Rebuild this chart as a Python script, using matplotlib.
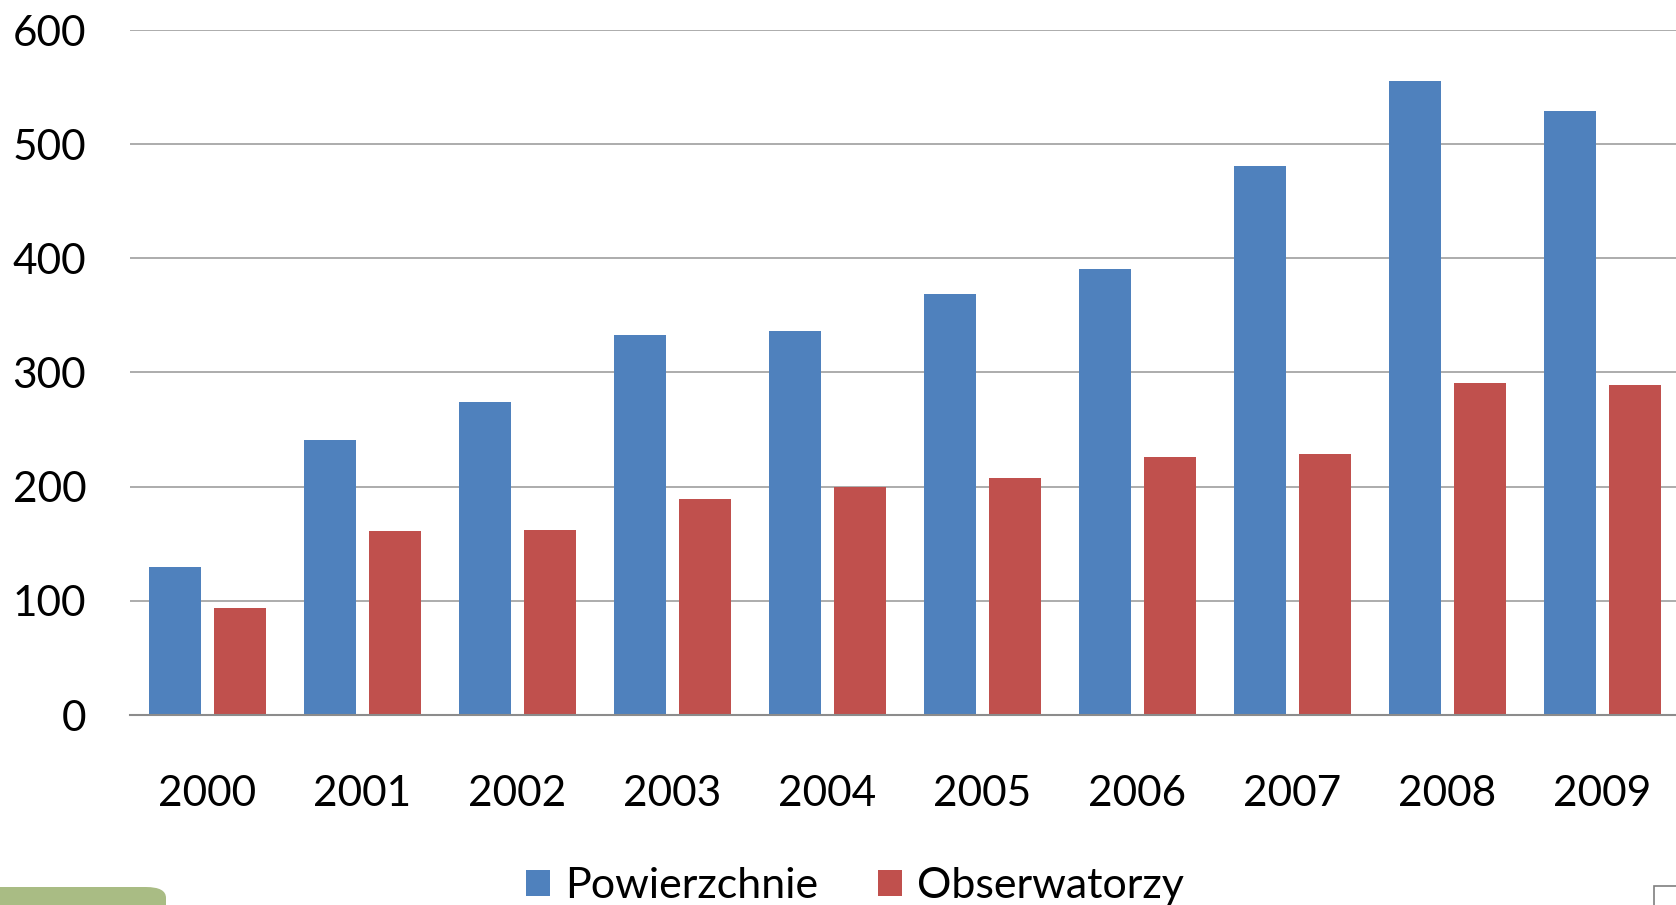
import matplotlib
matplotlib.use("Agg")
import matplotlib.pyplot as plt
import numpy as np
from matplotlib.patches import Patch, FancyBboxPatch, Rectangle

years = ["2000", "2001", "2002", "2003", "2004", "2005", "2006", "2007", "2008", "2009"]
powierzchnie = [130, 241, 274, 333, 336, 369, 391, 481, 555, 529]
obserwatorzy = [94, 161, 162, 189, 200, 208, 226, 229, 291, 289]
series_names = ["Powierzchnie", "Obserwatorzy"]
y_ticks = [0, 100, 200, 300, 400, 500, 600]

BLUE = "#4F81BD"
RED = "#C0504D"

plt.rcParams["font.family"] = ["Lato", "DejaVu Sans"]

W, H = 1676, 905
fig = plt.figure(figsize=(W / 100, H / 100), dpi=100)
ax = fig.add_axes([130 / W, (H - 715) / H, (1680 - 130) / W, (715 - 30) / H])

x = np.arange(len(years))
bw = 0.335
off = 0.208
ax.bar(x - off, powierzchnie, width=bw, color=BLUE, zorder=3)
ax.bar(x + off, obserwatorzy, width=bw, color=RED, zorder=3)

ax.set_xlim(-0.5, len(years) - 0.5)
ax.set_ylim(0, 600)
ax.set_yticks(y_ticks)
ax.set_yticklabels([str(v) for v in y_ticks])
ax.set_xticks(x)
ax.set_xticklabels(years)

ax.yaxis.grid(True, color="#A6A6A6", linewidth=1.3, zorder=0)
ax.set_axisbelow(True)
for s in ["top", "right", "left"]:
    ax.spines[s].set_visible(False)
ax.spines["bottom"].set_color("#8C8C8C")
ax.spines["bottom"].set_linewidth(1.5)
ax.spines["bottom"].set_zorder(4)

ax.tick_params(axis="both", length=0, labelsize=30.5, colors="#000000")
ax.tick_params(axis="y", pad=31.5)
ax.tick_params(axis="x", pad=43)

handles = [Patch(facecolor=BLUE, edgecolor="none"), Patch(facecolor=RED, edgecolor="none")]
fig.legend(handles, series_names, loc="center", bbox_to_anchor=(855 / W, 19 / H),
           ncol=2, frameon=False, fontsize=31, handlelength=0.55, handleheight=0.55,
           handletextpad=0.35, columnspacing=1.4, borderpad=0)

# decorative slide elements at the bottom corners
fig.patches.append(FancyBboxPatch((-20 / W, -20 / H), 186 / W, 38 / H,
                                  boxstyle="round,pad=0,rounding_size=0.012",
                                  transform=fig.transFigure, facecolor="#A9BC84",
                                  edgecolor="none", zorder=5))
fig.patches.append(Rectangle((1654 / W, -5 / H), 40 / W, 24 / H,
                             transform=fig.transFigure, facecolor="white",
                             edgecolor="#7F7F7F", linewidth=1.2, zorder=5))

fig.savefig("out.png", dpi=100)
